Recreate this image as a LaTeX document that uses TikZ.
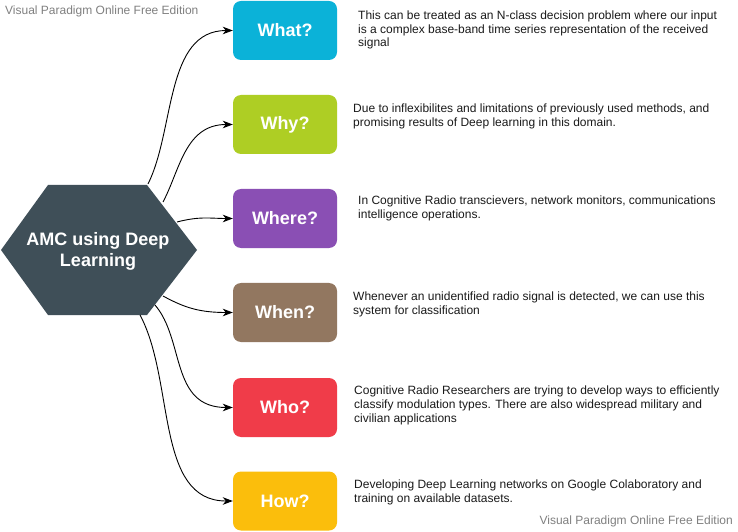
\documentclass[tikz,border=0pt]{standalone}
\usepackage{fontspec}
\setmainfont{Liberation Sans}
\usetikzlibrary{arrows.meta}
\definecolor{cWhat}{HTML}{0BB2D8}
\definecolor{cWhy}{HTML}{AECE24}
\definecolor{cWhere}{HTML}{8A4FB4}
\definecolor{cWhen}{HTML}{927760}
\definecolor{cWho}{HTML}{F03C49}
\definecolor{cHow}{HTML}{FBBE0C}
\definecolor{cHex}{HTML}{3F4F58}
\definecolor{cDesc}{HTML}{1A1A1A}
\definecolor{cWm}{HTML}{808080}
\tikzset{
  qbox/.style={rectangle, rounded corners=8bp, minimum width=104bp, minimum height=59bp,
    inner sep=0pt, text=white, font=\fontsize{18bp}{21bp}\selectfont\bfseries},
  desc/.style={anchor=base west, inner sep=0pt, align=left, text=cDesc,
    font=\fontsize{12bp}{13.8bp}\selectfont},
  wm/.style={inner sep=0pt, text=cWm, font=\fontsize{12bp}{14bp}\selectfont},
  conn/.style={draw=black, line width=0.9bp, -{Stealth[length=10bp,width=7.5bp,inset=3bp]}}
}
\begin{document}
\begin{tikzpicture}[x=1bp,y=-1bp]
\useasboundingbox (0,0) rectangle (738,532);
\fill[white] (0,0) rectangle (738,532);

% central hexagon
\fill[cHex] (1,250) -- (48,185) -- (147,185) -- (197,250) -- (147,315) -- (48,315) -- cycle;
\node[text=white, align=center, inner sep=0pt,
  font=\fontsize{18bp}{21bp}\selectfont\bfseries] (amc) at (98,251) {AMC using Deep\\Learning};
\coordinate (sWhat)  at (148,184);
\coordinate (sWhy)   at (163,202);
\coordinate (sWhere) at (177,222);
\coordinate (sWhen)  at (163,296);
\coordinate (sWho)   at (155,305);
\coordinate (sHow)   at (140,315);

% question boxes
\node[qbox, fill=cWhat]  (what)  at (285,30.5)  {What?};
\node[qbox, fill=cWhy]   (why)   at (285,124.5) {Why?};
\node[qbox, fill=cWhere] (where) at (285,218.5) {Where?};
\node[qbox, fill=cWhen]  (when)  at (285,312.5) {When?};
\node[qbox, fill=cWho]   (who)   at (285,407.5) {Who?};
\node[qbox, fill=cHow]   (how)   at (285,501)   {How?};

% connectors
\draw[conn] (sWhat)  .. controls (175,130) and (165,30.5) .. (what.west);
\draw[conn] (sWhy)   .. controls (180,170) and (185,124.5) .. (why.west);
\draw[conn] (sWhere) .. controls (200,216) and (210,218.5) .. (where.west);
\draw[conn] (sWhen)  .. controls (185,308) and (200,312.5) .. (when.west);
\draw[conn] (sWho)   .. controls (185,340) and (170,407.5) .. (who.west);
\draw[conn] (sHow)   .. controls (175,380) and (155,501) .. (how.west);

% descriptions (anchor = baseline of the last line)
\node[desc] (dWhat) at (358,46.9) {This can be treated as an N-class decision problem where our input\\is a complex base-band time series representation of the received\\signal};
\node[desc] (dWhy) at (353,126.4) {Due to inflexibilites and limitations of previously used methods, and\\promising results of Deep learning in this domain.};
\node[desc] (dWhere) at (358,218.1) {In Cognitive Radio transcievers, network monitors, communications\\intelligence operations.};
\node[desc] (dWhen) at (353,314.1) {Whenever an unidentified radio signal is detected, we can use this\\system for classification};
\node[desc] (dWho) at (354,422.3) {Cognitive Radio Researchers are trying to develop ways to efficiently\\classify modulation types. There are also widespread military and\\civilian applications};
\node[desc] (dHow) at (354,502.3) {Developing Deep Learning networks on Google Colaboratory and\\training on available datasets.};

% watermarks
\node[wm, anchor=west] (wm1) at (5,11) {Visual Paradigm Online Free Edition};
\node[wm, anchor=east] (wm2) at (733,521) {Visual Paradigm Online Free Edition};
\end{tikzpicture}
\end{document}
